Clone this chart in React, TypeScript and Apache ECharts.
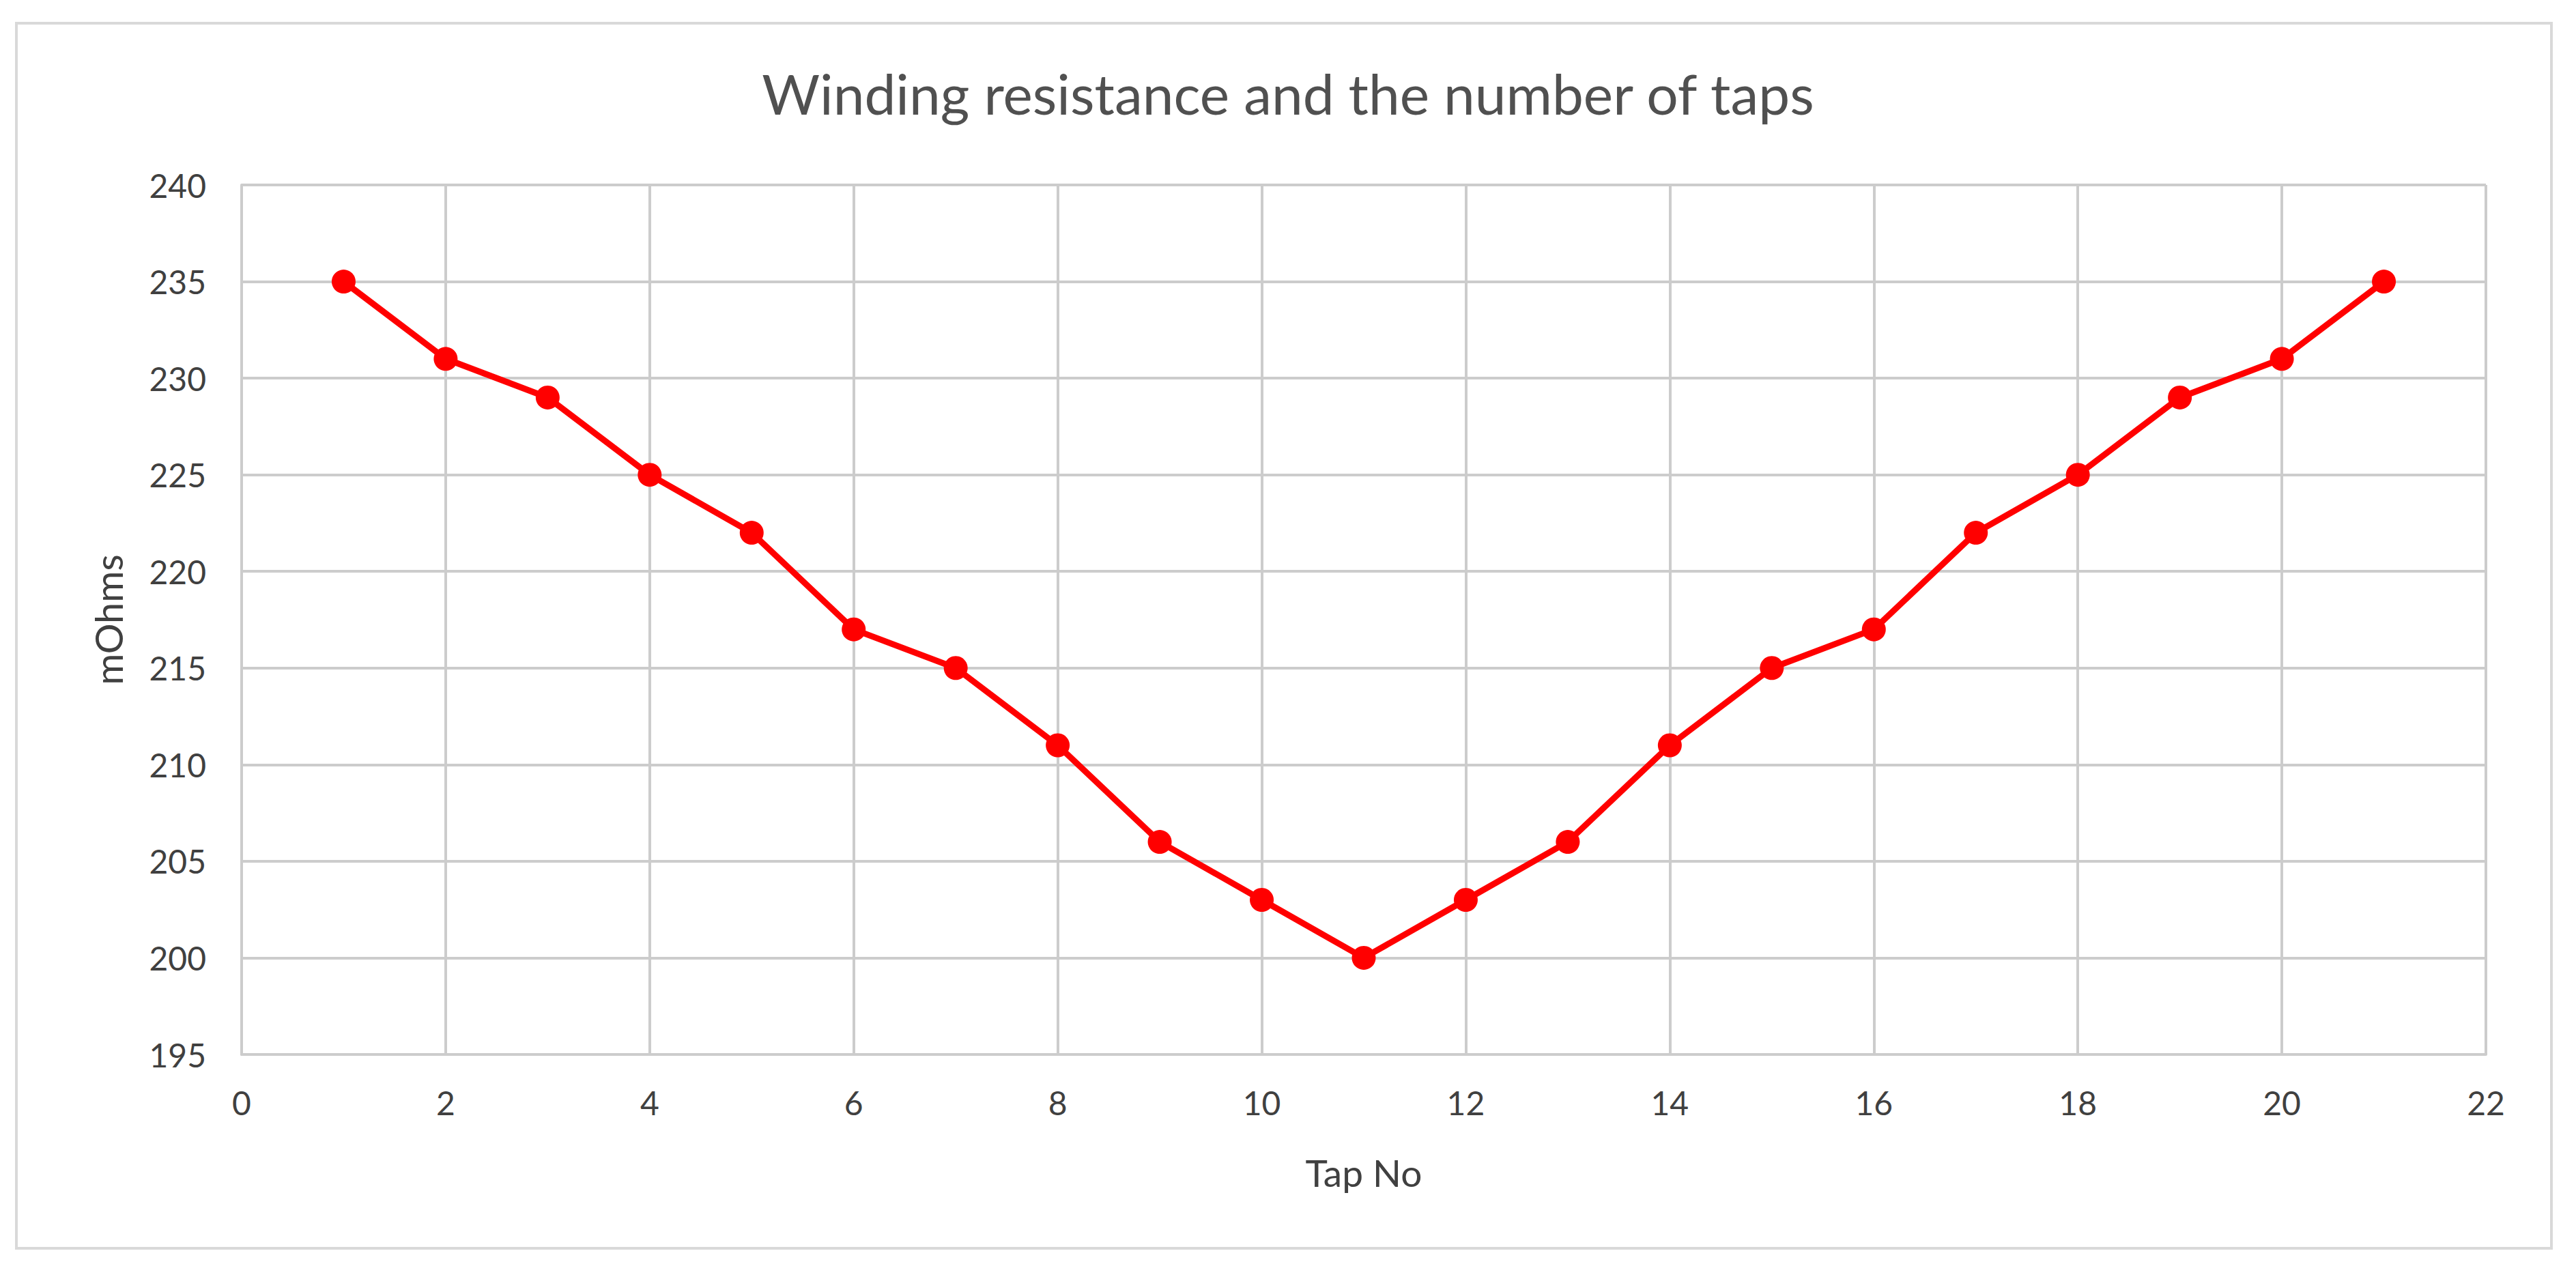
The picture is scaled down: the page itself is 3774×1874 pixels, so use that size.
import React, { useEffect, useRef } from "react";
import * as echarts from "echarts";

const tapNo = [1, 2, 3, 4, 5, 6, 7, 8, 9, 10, 11, 12, 13, 14, 15, 16, 17, 18, 19, 20, 21];
const resistance = [235, 231, 229, 225, 222, 217, 215, 211, 206, 203, 200, 203, 206, 211, 215, 217, 222, 225, 229, 231, 235];
const titleText = "Winding resistance and the number of taps";
const xName = "Tap No";
const yName = "mOhms";

const FONT = "Lato, 'Open Sans', sans-serif";
const TEXT = "#404040";
const GRID = "#cccccc";

export default function App() {
  const ref = useRef<HTMLDivElement>(null);
  useEffect(() => {
    if (!ref.current) return;
    const chart = echarts.init(ref.current, undefined, { renderer: "svg" });
    chart.setOption({
      animation: false,
      backgroundColor: "#ffffff",
      title: {
        text: titleText,
        left: "center",
        top: 90,
        textStyle: { fontFamily: FONT, fontSize: 82, fontWeight: "normal", color: "#505050" },
      },
      graphic: [
        {
          type: "rect",
          shape: { x: 24, y: 34, width: 3714, height: 1795 },
          style: { fill: "none", stroke: "#d9d9d9", lineWidth: 4 },
          silent: true,
        },
      ],
      grid: { left: 354, top: 271, right: 132, bottom: 329 },
      xAxis: {
        type: "value",
        min: 0,
        max: 22,
        interval: 2,
        name: xName,
        nameLocation: "middle",
        nameGap: 145,
        nameTextStyle: { fontFamily: FONT, fontSize: 55, color: TEXT },
        axisLine: { show: true, lineStyle: { color: GRID, width: 4 } },
        axisTick: { show: false },
        axisLabel: { margin: 46, fontFamily: FONT, fontSize: 48, color: TEXT },
        splitLine: { show: true, lineStyle: { color: GRID, width: 4 } },
      },
      yAxis: {
        type: "value",
        min: 195,
        max: 240,
        interval: 5,
        name: yName,
        nameLocation: "middle",
        nameGap: 168,
        nameTextStyle: { fontFamily: FONT, fontSize: 56, color: TEXT },
        axisLine: { show: true, lineStyle: { color: GRID, width: 4 } },
        axisTick: { show: false },
        axisLabel: { margin: 52, fontFamily: FONT, fontSize: 48, color: TEXT },
        splitLine: { show: true, lineStyle: { color: GRID, width: 4 } },
      },
      series: [
        {
          type: "line",
          data: tapNo.map((x, i) => [x, resistance[i]]),
          symbol: "circle",
          symbolSize: 35,
          lineStyle: { color: "#ff0000", width: 9 },
          itemStyle: { color: "#ff0000" },
        },
      ],
    });
    return () => chart.dispose();
  }, []);
  return <div ref={ref} style={{ position: "fixed", left: 0, top: 0, width: 3774, height: 1874 }} />;
}
